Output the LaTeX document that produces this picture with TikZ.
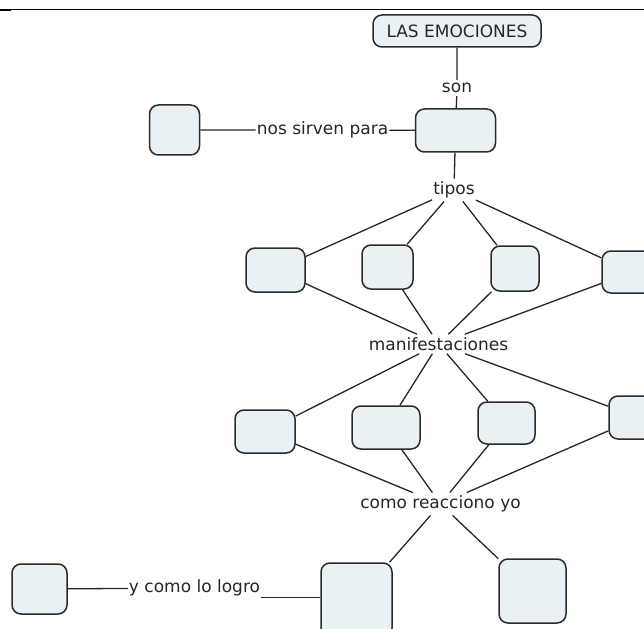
\documentclass[tikz,border=0pt]{standalone}
\usepackage{fontspec}
\setmainfont{DejaVu Sans}
\usepackage{tikz}
\definecolor{custom_fill}{HTML}{E9F1F4}
\definecolor{custom_edge}{HTML}{2B2B2B}

\begin{document}
\begin{tikzpicture}[x=1pt, y=-1pt, every node/.style={font=\fontsize{17}{20}\selectfont, text=black!85},
    concept/.style={draw=custom_edge, fill=custom_fill, line width=1.5pt, rounded corners=9pt, inner sep=0pt},
    phrase/.style={inner xsep=1pt, inner ysep=3pt},
    link/.style={line width=1.3pt, black!85}]

    % Page area and the rule at the top
    \useasboundingbox (0,0) rectangle (644,628);
    \clip (0,0) rectangle (644,628);
    \draw[line width=1pt] (0,9.5) -- (644,9.5);
    \draw[line width=2pt] (0,10.5) -- (11,10.5);

    % Main concept
    \node[concept, minimum width=168, minimum height=32] (emociones) at (457,31) {LAS EMOCIONES};
    \node[phrase] (son) at (457,88) {son};
    \node[concept, minimum width=80, minimum height=43] (raiz) at (455.5,130.5) {};

    % What they are for
    \node[concept, minimum width=50, minimum height=50] (sirven) at (174.5,130) {};
    \node[phrase] (nos) at (322.5,130) {nos sirven para};

    % Types
    \node[phrase] (tipos) at (454,190) {tipos};
    \node[concept, minimum width=59, minimum height=44] (tipoA) at (275.5,270) {};
    \node[concept, minimum width=51, minimum height=44] (tipoB) at (387.5,267) {};
    \node[concept, minimum width=48, minimum height=45] (tipoC) at (515,268.5) {};
    \node[concept, minimum width=60, minimum height=42] (tipoD) at (632,272) {};

    % Manifestations
    \node[phrase] (manif) at (438.5,344) {manifestaciones};
    \node[concept, minimum width=60, minimum height=43] (manA) at (265,431.5) {};
    \node[concept, minimum width=68, minimum height=43] (manB) at (386,427.5) {};
    \node[concept, minimum width=57, minimum height=42] (manC) at (506.5,423) {};
    \node[concept, minimum width=60, minimum height=43] (manD) at (639,417.5) {};

    % Reactions
    \node[phrase] (reacciono) at (440.5,504) {como reacciono yo};
    \node[concept, minimum width=71, minimum height=74] (reacA) at (356.5,600) {};
    \node[concept, minimum width=67, minimum height=64] (reacB) at (532.5,591) {};

    % How I get there
    \node[concept, minimum width=55, minimum height=50] (logro) at (39.5,589) {};
    \node[phrase] (comolo) at (194.5,588) {y como lo logro};

    % Connectors
    \draw[link] (emociones) -- (son) -- (raiz);
    \draw[link] (sirven) -- (nos) -- (raiz);
    \draw[link] (raiz) -- (tipos);
    \draw[link] (tipos) -- (tipoA) -- (manif);
    \draw[link] (tipos) -- (tipoB) -- (manif);
    \draw[link] (tipos) -- (tipoC) -- (manif);
    \draw[link] (tipos) -- (tipoD) -- (manif);
    \draw[link] (manif) -- (manA) -- (reacciono);
    \draw[link] (manif) -- (manB) -- (reacciono);
    \draw[link] (manif) -- (manC) -- (reacciono);
    \draw[link] (manif) -- (manD) -- (reacciono);
    \draw[link] (reacciono) -- (reacA);
    \draw[link] (reacciono) -- (reacB);
    \draw[link] (logro) -- (comolo);
    \draw[link] ([yshift=2pt]comolo.south east) -- ([yshift=2pt]comolo.south east -| reacA.west);

\end{tikzpicture}
\end{document}
